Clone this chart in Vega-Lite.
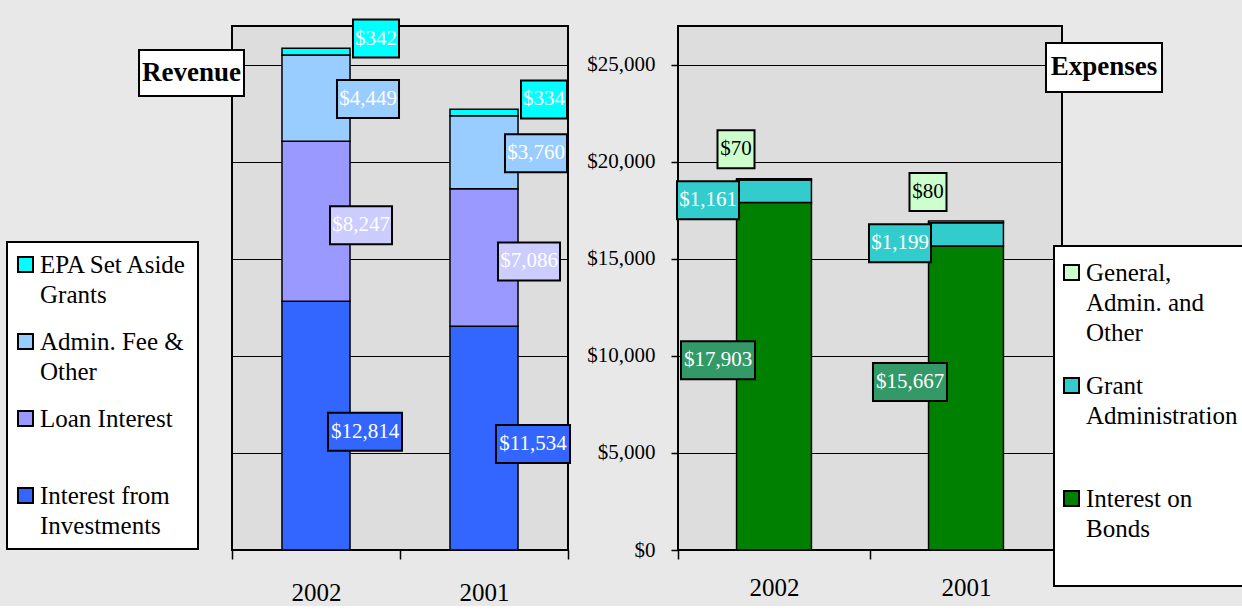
{
  "$schema": "https://vega.github.io/schema/vega-lite/v6.json",
  "background": "#e8e8e8",
  "padding": {"left": 5, "top": 14, "right": 0, "bottom": 0},
  "datasets": {
    "revenue": [
      {"year": "2002", "series": "Interest from Investments", "k": 1, "value": 12814},
      {"year": "2002", "series": "Loan Interest", "k": 2, "value": 8247},
      {"year": "2002", "series": "Admin. Fee & Other", "k": 3, "value": 4449},
      {"year": "2002", "series": "EPA Set Aside Grants", "k": 4, "value": 342},
      {"year": "2001", "series": "Interest from Investments", "k": 1, "value": 11534},
      {"year": "2001", "series": "Loan Interest", "k": 2, "value": 7086},
      {"year": "2001", "series": "Admin. Fee & Other", "k": 3, "value": 3760},
      {"year": "2001", "series": "EPA Set Aside Grants", "k": 4, "value": 334}
    ],
    "expenses": [
      {"year": "2002", "series": "Interest on Bonds", "k": 1, "value": 17903},
      {"year": "2002", "series": "Grant Administration", "k": 2, "value": 1161},
      {"year": "2002", "series": "General, Admin. and Other", "k": 3, "value": 70},
      {"year": "2001", "series": "Interest on Bonds", "k": 1, "value": 15667},
      {"year": "2001", "series": "Grant Administration", "k": 2, "value": 1199},
      {"year": "2001", "series": "General, Admin. and Other", "k": 3, "value": 80}
    ]
  },
  "spacing": 110,
  "bounds": "flush",
  "resolve": {
    "scale": {"x": "independent", "y": "independent", "color": "independent"},
    "legend": {"color": "independent"}
  },
  "hconcat": [
    {
      "width": 336,
      "height": 524,
      "data": {"name": "revenue"},
      "layer": [
        {
          "mark": {"type": "bar", "width": {"band": 0.405}, "stroke": "black", "strokeWidth": 1.5},
          "encoding": {
            "x": {"field": "year", "type": "nominal", "title": null,
              "scale": {"domain": ["2002", "2001"], "paddingInner": 0, "paddingOuter": 0},
              "axis": {"labelFont": "Liberation Serif", "labelFontSize": 25, "labelColor": "black", "labelAngle": 0,
                "tickBand": "extent", "tickSize": 9, "tickColor": "black", "tickWidth": 1.5, "labelPadding": 21,
                "domain": false, "title": null}},
            "y": {"field": "value", "type": "quantitative", "stack": "zero", "title": null,
              "scale": {"domain": [0, 27000], "nice": false},
              "axis": {"values": [5000, 10000, 15000, 20000, 25000], "labels": false, "ticks": false, "domain": false,
                "grid": true, "gridColor": "black", "gridWidth": 1, "gridOpacity": 1, "title": null}},
            "color": {"field": "series", "type": "nominal",
              "scale": {"domain": ["EPA Set Aside Grants", "Admin. Fee & Other", "Loan Interest", "Interest from Investments"],
                "range": ["#00FFFF", "#99CCFF", "#9999FF", "#3366FF"]},
              "legend": {
                "orient": "none", "legendX": -225, "legendY": 216, "title": null,
                "padding": 10, "rowPadding": 21, "fillColor": "white", "strokeColor": "black",
                "symbolType": "square", "symbolSize": 225, "symbolStrokeColor": "black", "symbolStrokeWidth": 2, "symbolOffset": -4,
                "labelFont": "Liberation Serif", "labelFontSize": 25, "labelColor": "black", "labelLimit": 400, "labelOffset": 2,
                "labelExpr": "datum.label === 'EPA Set Aside Grants' ? ['EPA Set Aside', 'Grants'] : datum.label === 'Admin. Fee & Other' ? ['Admin. Fee &', 'Other'] : datum.label === 'Loan Interest' ? ['Loan Interest', ' '] : ['Interest from', 'Investments']",
                "encode": {
                  "legend": {"update": {"strokeWidth": {"value": 2}}},
                  "symbols": {"update": {"stroke": {"value": "black"}, "strokeWidth": {"value": 2}}},
                  "labels": {"update": {"lineHeight": {"value": 30}}}
                }
              }},
            "order": {"field": "k", "type": "quantitative"}
          }
        },
        {
          "mark": {"type": "point", "shape": "M-0.605,-0.5H0.605V0.5H-0.605Z", "size": 5776, "filled": true, "fill": "#00FFFF", "stroke": "black", "strokeWidth": 2, "xOffset": 60, "yOffset": -13},
          "encoding": {
            "x": {"field": "year", "type": "nominal", "title": null},
            "y": {"field": "value", "type": "quantitative", "stack": "zero", "bandPosition": 0.5, "title": null},
            "detail": {"field": "series"},
            "order": {"field": "k", "type": "quantitative"},
            "opacity": {"condition": {"test": "datum.series === 'EPA Set Aside Grants'", "value": 1}, "value": 0}
          }
        },
        {
          "mark": {"type": "text", "font": "Liberation Serif", "fontSize": 21, "color": "white", "baseline": "middle", "xOffset": 60, "yOffset": -13},
          "encoding": {
            "x": {"field": "year", "type": "nominal", "title": null},
            "y": {"field": "value", "type": "quantitative", "stack": "zero", "bandPosition": 0.5, "title": null},
            "detail": {"field": "series"},
            "order": {"field": "k", "type": "quantitative"},
            "text": {"field": "value", "type": "quantitative", "format": "$,.0f"},
            "opacity": {"condition": {"test": "datum.series === 'EPA Set Aside Grants'", "value": 1}, "value": 0}
          }
        },
        {
          "mark": {"type": "point", "shape": "M-0.816,-0.5H0.816V0.5H-0.816Z", "size": 5776, "filled": true, "fill": "#99CCFF", "stroke": "black", "strokeWidth": 2, "xOffset": 52, "yOffset": 1},
          "encoding": {
            "x": {"field": "year", "type": "nominal", "title": null},
            "y": {"field": "value", "type": "quantitative", "stack": "zero", "bandPosition": 0.5, "title": null},
            "detail": {"field": "series"},
            "order": {"field": "k", "type": "quantitative"},
            "opacity": {"condition": {"test": "datum.series === 'Admin. Fee & Other'", "value": 1}, "value": 0}
          }
        },
        {
          "mark": {"type": "text", "font": "Liberation Serif", "fontSize": 21, "color": "white", "baseline": "middle", "xOffset": 52, "yOffset": 1},
          "encoding": {
            "x": {"field": "year", "type": "nominal", "title": null},
            "y": {"field": "value", "type": "quantitative", "stack": "zero", "bandPosition": 0.5, "title": null},
            "detail": {"field": "series"},
            "order": {"field": "k", "type": "quantitative"},
            "text": {"field": "value", "type": "quantitative", "format": "$,.0f"},
            "opacity": {"condition": {"test": "datum.series === 'Admin. Fee & Other'", "value": 1}, "value": 0}
          }
        },
        {
          "mark": {"type": "point", "shape": "M-0.816,-0.5H0.816V0.5H-0.816Z", "size": 5776, "filled": true, "fill": "#CCCCFF", "stroke": "black", "strokeWidth": 2, "xOffset": 45, "yOffset": 4},
          "encoding": {
            "x": {"field": "year", "type": "nominal", "title": null},
            "y": {"field": "value", "type": "quantitative", "stack": "zero", "bandPosition": 0.5, "title": null},
            "detail": {"field": "series"},
            "order": {"field": "k", "type": "quantitative"},
            "opacity": {"condition": {"test": "datum.series === 'Loan Interest'", "value": 1}, "value": 0}
          }
        },
        {
          "mark": {"type": "text", "font": "Liberation Serif", "fontSize": 21, "color": "white", "baseline": "middle", "xOffset": 45, "yOffset": 4},
          "encoding": {
            "x": {"field": "year", "type": "nominal", "title": null},
            "y": {"field": "value", "type": "quantitative", "stack": "zero", "bandPosition": 0.5, "title": null},
            "detail": {"field": "series"},
            "order": {"field": "k", "type": "quantitative"},
            "text": {"field": "value", "type": "quantitative", "format": "$,.0f"},
            "opacity": {"condition": {"test": "datum.series === 'Loan Interest'", "value": 1}, "value": 0}
          }
        },
        {
          "mark": {"type": "point", "shape": "M-0.974,-0.5H0.974V0.5H-0.974Z", "size": 5776, "filled": true, "fill": "#3366FF", "stroke": "black", "strokeWidth": 2, "xOffset": 49, "yOffset": 6},
          "encoding": {
            "x": {"field": "year", "type": "nominal", "title": null},
            "y": {"field": "value", "type": "quantitative", "stack": "zero", "bandPosition": 0.5, "title": null},
            "detail": {"field": "series"},
            "order": {"field": "k", "type": "quantitative"},
            "opacity": {"condition": {"test": "datum.series === 'Interest from Investments'", "value": 1}, "value": 0}
          }
        },
        {
          "mark": {"type": "text", "font": "Liberation Serif", "fontSize": 21, "color": "white", "baseline": "middle", "xOffset": 49, "yOffset": 6},
          "encoding": {
            "x": {"field": "year", "type": "nominal", "title": null},
            "y": {"field": "value", "type": "quantitative", "stack": "zero", "bandPosition": 0.5, "title": null},
            "detail": {"field": "series"},
            "order": {"field": "k", "type": "quantitative"},
            "text": {"field": "value", "type": "quantitative", "format": "$,.0f"},
            "opacity": {"condition": {"test": "datum.series === 'Interest from Investments'", "value": 1}, "value": 0}
          }
        },
        {
          "data": {"values": [{"t": "Revenue"}]},
          "mark": {"type": "point", "shape": "M-1.141,-0.5H1.141V0.5H-1.141Z", "size": 8464, "filled": true, "fill": "white", "stroke": "black", "strokeWidth": 2, "opacity": 1, "xOffset": -124.5},
          "encoding": {
            "x": {"datum": "2002", "type": "nominal"},
            "y": {"datum": 24580, "type": "quantitative"}
          }
        },
        {
          "data": {"values": [{"t": "Revenue"}]},
          "mark": {"type": "text", "font": "Liberation Serif", "fontSize": 27, "fontWeight": "bold", "color": "black", "baseline": "middle", "xOffset": -124.5},
          "encoding": {
            "x": {"datum": "2002", "type": "nominal"},
            "y": {"datum": 24580, "type": "quantitative"},
            "text": {"field": "t"}
          }
        }
      ]
    },
    {
      "width": 384,
      "height": 524,
      "data": {"name": "expenses"},
      "layer": [
        {
          "mark": {"type": "bar", "width": {"band": 0.39}, "stroke": "black", "strokeWidth": 1.5},
          "encoding": {
            "x": {"field": "year", "type": "nominal", "title": null,
              "scale": {"domain": ["2002", "2001"], "paddingInner": 0, "paddingOuter": 0},
              "axis": {"labelFont": "Liberation Serif", "labelFontSize": 25, "labelColor": "black", "labelAngle": 0,
                "tickBand": "extent", "tickSize": 9, "tickColor": "black", "tickWidth": 1.5, "labelPadding": 16,
                "domain": false, "title": null}},
            "y": {"field": "value", "type": "quantitative", "stack": "zero", "title": null,
              "scale": {"domain": [0, 27000], "nice": false},
              "axis": {"values": [0, 5000, 10000, 15000, 20000, 25000], "format": "$,d",
                "labelFont": "Liberation Serif", "labelFontSize": 21, "labelColor": "black",
                "tickColor": "black", "tickSize": 7, "tickWidth": 1.5, "labelPadding": 16, "domain": false,
                "grid": true, "gridColor": "black", "gridWidth": 1, "gridOpacity": 1, "title": null}},
            "color": {"field": "series", "type": "nominal",
              "scale": {"domain": ["General, Admin. and Other", "Grant Administration", "Interest on Bonds"],
                "range": ["#CCFFCC", "#33CCCC", "#008000"]},
              "legend": {
                "orient": "none", "legendX": 376, "legendY": 220, "title": null,
                "padding": 14, "rowPadding": 27, "fillColor": "white", "strokeColor": "black",
                "symbolType": "square", "symbolSize": 225, "symbolStrokeColor": "black", "symbolStrokeWidth": 2, "symbolOffset": -9,
                "labelFont": "Liberation Serif", "labelFontSize": 25, "labelColor": "black", "labelLimit": 400, "labelOffset": 2,
                "labelExpr": "datum.label === 'General, Admin. and Other' ? ['General,', 'Admin. and', 'Other'] : datum.label === 'Grant Administration' ? ['Grant', 'Administration', ' '] : ['Interest on', 'Bonds', ' ']",
                "encode": {
                  "legend": {"update": {"strokeWidth": {"value": 2}}},
                  "symbols": {"update": {"stroke": {"value": "black"}, "strokeWidth": {"value": 2}}},
                  "labels": {"update": {"lineHeight": {"value": 30}}}
                }
              }},
            "order": {"field": "k", "type": "quantitative"}
          }
        },
        {
          "mark": {"type": "point", "shape": "M-0.487,-0.5H0.487V0.5H-0.487Z", "size": 5776, "filled": true, "fill": "#CCFFCC", "stroke": "black", "strokeWidth": 2, "xOffset": -38, "yOffset": -30},
          "encoding": {
            "x": {"field": "year", "type": "nominal", "title": null},
            "y": {"field": "value", "type": "quantitative", "stack": "zero", "bandPosition": 0.5, "title": null},
            "detail": {"field": "series"},
            "order": {"field": "k", "type": "quantitative"},
            "opacity": {"condition": {"test": "datum.series === 'General, Admin. and Other'", "value": 1}, "value": 0}
          }
        },
        {
          "mark": {"type": "text", "font": "Liberation Serif", "fontSize": 21, "color": "black", "baseline": "middle", "xOffset": -38, "yOffset": -30},
          "encoding": {
            "x": {"field": "year", "type": "nominal", "title": null},
            "y": {"field": "value", "type": "quantitative", "stack": "zero", "bandPosition": 0.5, "title": null},
            "detail": {"field": "series"},
            "order": {"field": "k", "type": "quantitative"},
            "text": {"field": "value", "type": "quantitative", "format": "$,.0f"},
            "opacity": {"condition": {"test": "datum.series === 'General, Admin. and Other'", "value": 1}, "value": 0}
          }
        },
        {
          "mark": {"type": "point", "shape": "M-0.816,-0.5H0.816V0.5H-0.816Z", "size": 5776, "filled": true, "fill": "#33CCCC", "stroke": "black", "strokeWidth": 2, "xOffset": -66, "yOffset": 9},
          "encoding": {
            "x": {"field": "year", "type": "nominal", "title": null},
            "y": {"field": "value", "type": "quantitative", "stack": "zero", "bandPosition": 0.5, "title": null},
            "detail": {"field": "series"},
            "order": {"field": "k", "type": "quantitative"},
            "opacity": {"condition": {"test": "datum.series === 'Grant Administration'", "value": 1}, "value": 0}
          }
        },
        {
          "mark": {"type": "text", "font": "Liberation Serif", "fontSize": 21, "color": "white", "baseline": "middle", "xOffset": -66, "yOffset": 9},
          "encoding": {
            "x": {"field": "year", "type": "nominal", "title": null},
            "y": {"field": "value", "type": "quantitative", "stack": "zero", "bandPosition": 0.5, "title": null},
            "detail": {"field": "series"},
            "order": {"field": "k", "type": "quantitative"},
            "text": {"field": "value", "type": "quantitative", "format": "$,.0f"},
            "opacity": {"condition": {"test": "datum.series === 'Grant Administration'", "value": 1}, "value": 0}
          }
        },
        {
          "mark": {"type": "point", "shape": "M-0.974,-0.5H0.974V0.5H-0.974Z", "size": 5776, "filled": true, "fill": "#339966", "stroke": "black", "strokeWidth": 2, "xOffset": -56, "yOffset": -16},
          "encoding": {
            "x": {"field": "year", "type": "nominal", "title": null},
            "y": {"field": "value", "type": "quantitative", "stack": "zero", "bandPosition": 0.5, "title": null},
            "detail": {"field": "series"},
            "order": {"field": "k", "type": "quantitative"},
            "opacity": {"condition": {"test": "datum.series === 'Interest on Bonds'", "value": 1}, "value": 0}
          }
        },
        {
          "mark": {"type": "text", "font": "Liberation Serif", "fontSize": 21, "color": "white", "baseline": "middle", "xOffset": -56, "yOffset": -16},
          "encoding": {
            "x": {"field": "year", "type": "nominal", "title": null},
            "y": {"field": "value", "type": "quantitative", "stack": "zero", "bandPosition": 0.5, "title": null},
            "detail": {"field": "series"},
            "order": {"field": "k", "type": "quantitative"},
            "text": {"field": "value", "type": "quantitative", "format": "$,.0f"},
            "opacity": {"condition": {"test": "datum.series === 'Interest on Bonds'", "value": 1}, "value": 0}
          }
        },
        {
          "data": {"values": [{"t": "Expenses"}]},
          "mark": {"type": "point", "shape": "M-1.184,-0.5H1.184V0.5H-1.184Z", "size": 9604, "filled": true, "fill": "white", "stroke": "black", "strokeWidth": 2, "opacity": 1, "xOffset": 138},
          "encoding": {
            "x": {"datum": "2001", "type": "nominal"},
            "y": {"datum": 24862, "type": "quantitative"}
          }
        },
        {
          "data": {"values": [{"t": "Expenses"}]},
          "mark": {"type": "text", "font": "Liberation Serif", "fontSize": 27, "fontWeight": "bold", "color": "black", "baseline": "middle", "xOffset": 138},
          "encoding": {
            "x": {"datum": "2001", "type": "nominal"},
            "y": {"datum": 24862, "type": "quantitative"},
            "text": {"field": "t"}
          }
        }
      ]
    }
  ],
  "config": {
    "font": "Liberation Serif",
    "view": {"fill": "#dddddd", "stroke": "black", "strokeWidth": 2}
  }
}
